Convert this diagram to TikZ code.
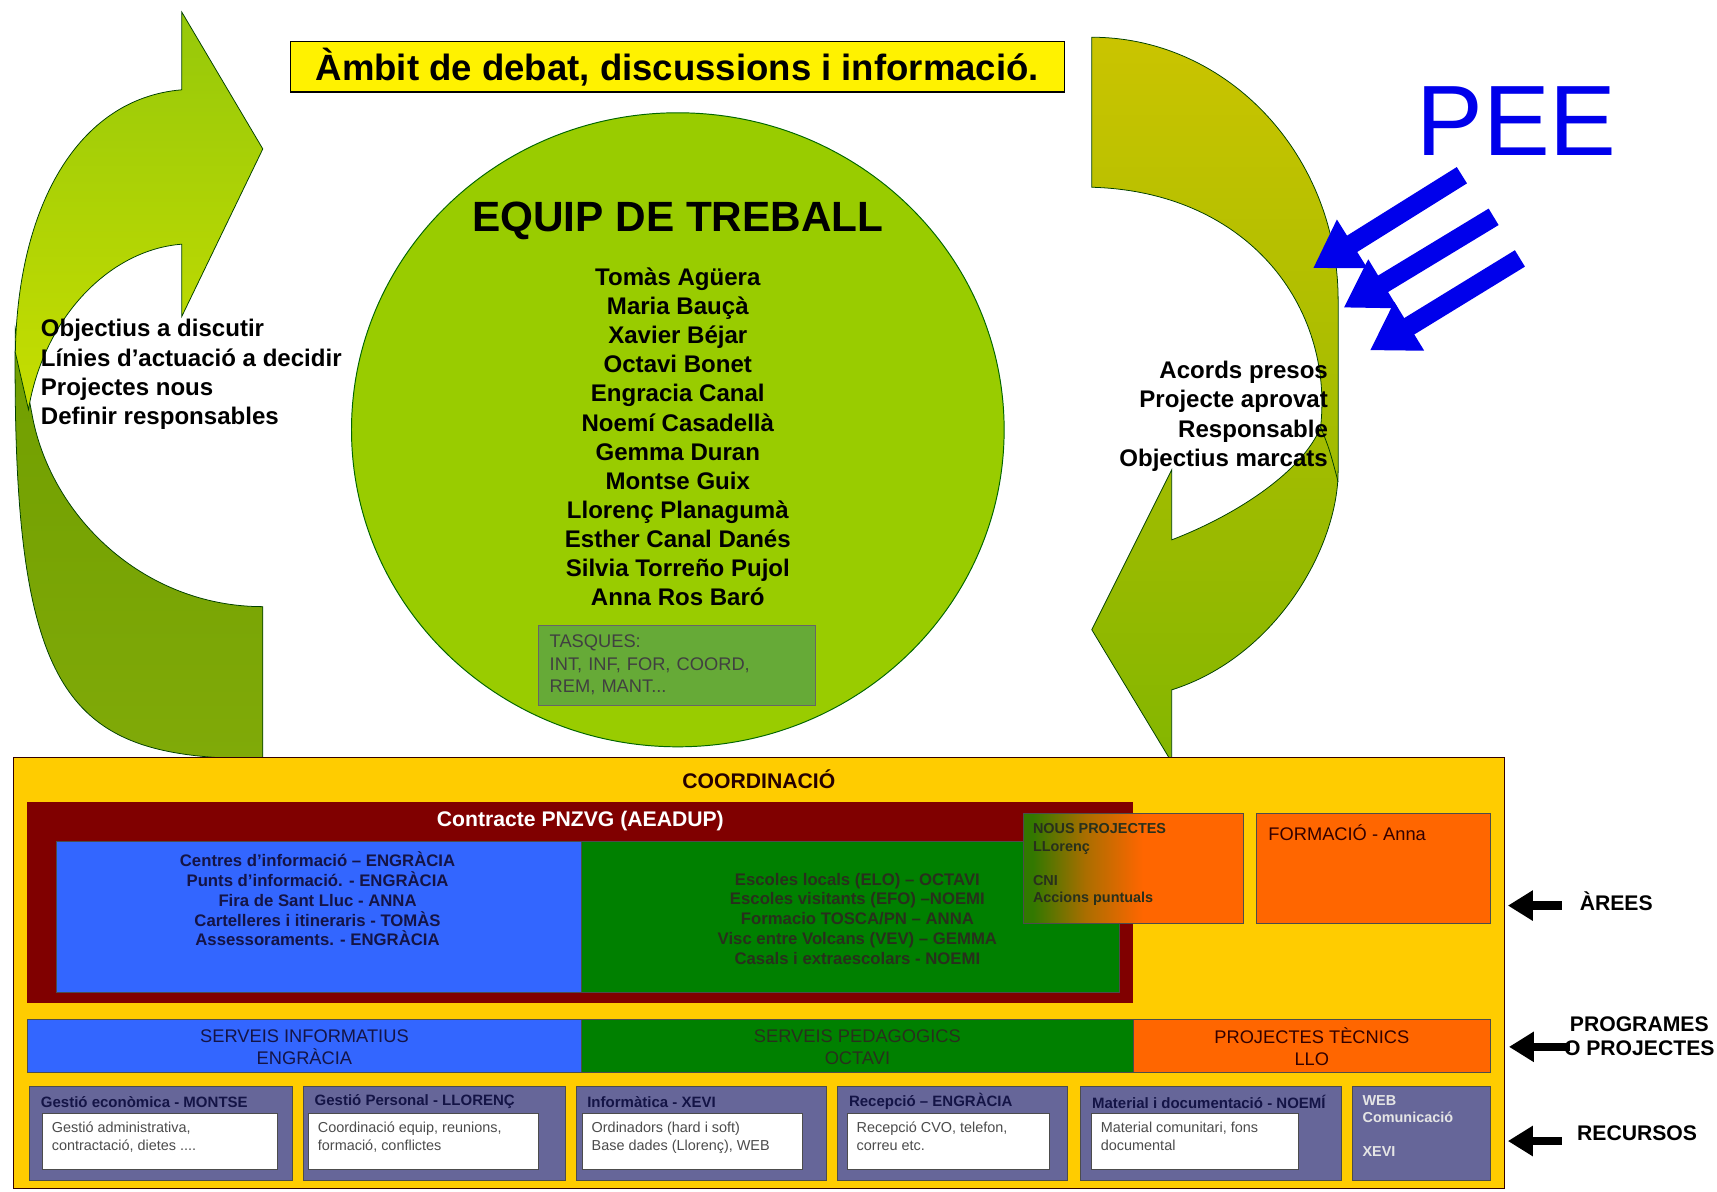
\documentclass[tikz,border=0pt]{standalone}
\usepackage{fontspec}
\setmainfont{Liberation Sans}
\usetikzlibrary{arrows.meta}

\definecolor{leftlight}{RGB}{198,222,0}
\definecolor{lefthead}{RGB}{150,200,10}
\definecolor{leftdark}{RGB}{112,158,0}
\definecolor{leftdarkb}{RGB}{128,170,8}
\definecolor{rightolive}{RGB}{202,196,0}
\definecolor{rightmid}{RGB}{188,212,0}
\definecolor{rightgreen}{RGB}{132,182,0}
\definecolor{circlelime}{RGB}{153,204,0}
\definecolor{tasquesgreen}{RGB}{102,170,55}
\definecolor{coordyellow}{RGB}{255,204,0}
\definecolor{contractred}{RGB}{128,0,0}
\definecolor{infoblue}{RGB}{51,102,255}
\definecolor{pedagreen}{RGB}{0,128,0}
\definecolor{projorange}{RGB}{255,102,0}
\definecolor{recpurple}{RGB}{102,102,153}
\definecolor{peeblue}{RGB}{0,0,235}
\definecolor{inknavy}{RGB}{20,20,70}
\definecolor{inkgreen}{RGB}{40,48,28}
\definecolor{nousgreen}{RGB}{50,120,0}
\definecolor{nousmid}{RGB}{170,110,0}

\pgfdeclarehorizontalshading{nousgrad}{100bp}{color(0bp)=(nousgreen); color(27bp)=(nousgreen); color(39bp)=(nousmid); color(52bp)=(projorange); color(100bp)=(projorange)}

\tikzset{
	loopline/.style={draw=black!75!green, line width=0.4pt},
	thinbox/.style={draw=black!70, line width=0.5pt},
	sidetxt/.style={inner sep=0pt, font=\fontsize{12.5}{15.3}\selectfont\bfseries},
	areatxt/.style={inner sep=0pt, align=center, font=\fontsize{8.7}{10.3}\selectfont\bfseries},
	progtxt/.style={inner sep=0pt, align=center, text=inknavy, font=\fontsize{9.5}{11.4}\selectfont},
	headtxt/.style={inner sep=0pt, anchor=west, text=inknavy, font=\fontsize{7.8}{9}\selectfont\bfseries},
	bodytxt/.style={inner sep=0pt, anchor=north west, align=left, text=black!70, font=\fontsize{7.5}{9.7}\selectfont},
	labeltxt/.style={inner sep=0pt, align=center, font=\fontsize{11}{12.5}\selectfont\bfseries},
	sidearrow/.style={line width=4.3pt, -{Triangle[length=13pt,width=15pt]}},
	peearrow/.style={peeblue, line width=10pt, -{Triangle[length=24pt,width=28pt]}}
}

\begin{document}
\begin{tikzpicture}[x=0.02cm, y=-0.02cm]
	\fill[white] (0,0) rectangle (1568,1088);
	\useasboundingbox (0,0) rectangle (1568,1088);

	\draw[loopline, top color=leftdark, bottom color=leftdarkb] (14,300) .. controls (10,640) and (60,693) .. (240,693) -- (240,554) .. controls (130,554) and (45,470) .. (29,377) -- cycle;
	\draw[loopline, top color=lefthead, bottom color=leftlight] (166,82) -- (166,11) -- (240,136) -- (166,289) -- (166,223) .. controls (100,228) and (40,290) .. (26,374) -- (14,322) .. controls (16,190) and (70,90) .. (166,82) -- cycle;

	\draw[loopline, top color=rightolive, middle color=rightmid, bottom color=rightgreen] (997,34) .. controls (1121,34) and (1222,142) .. (1222,274) -- (1222,430) .. controls (1222,500) and (1165,600) .. (1070,630) -- (1070,696) -- (997,575) -- (1070,429) -- (1070,493) .. controls (1130,470) and (1190,430) .. (1206,390) .. controls (1218,280) and (1140,175) .. (997,171) -- cycle;
	\draw[loopline] (1206,390) .. controls (1214,410) .. (1222,440);

	\node[draw=black, line width=0.7pt, fill=yellow, minimum width=14.14cm, minimum height=0.92cm, inner sep=0pt, font=\fontsize{19}{22}\selectfont\bfseries] (ambit) at (618.5,61) {Àmbit de debat, discussions i informació.};

	\draw[draw=black!60!green, line width=0.5pt, fill=circlelime] (619,392.5) ellipse [x radius=298, y radius=289.5];
	\node[inner sep=0pt, font=\fontsize{22}{26}\selectfont\bfseries] (equip) at (619,202) {EQUIP DE TREBALL};
	\node[sidetxt, align=center, font=\fontsize{12.5}{15.15}\selectfont\bfseries] (membres) at (619,399) {Tomàs Agüera\\Maria Bauçà\\Xavier Béjar\\Octavi Bonet\\Engracia Canal\\Noemí Casadellà\\Gemma Duran\\Montse Guix\\Llorenç Planagumà\\Esther Canal Danés\\Silvia Torreño Pujol\\Anna Ros Baró};
	\node[draw=black!60, fill=tasquesgreen, minimum width=5.06cm, minimum height=1.46cm, inner xsep=0.2cm, text width=4.66cm, align=left, text=black!75, font=\fontsize{9.5}{11.7}\selectfont] (tasques) at (618.5,607.5) {TASQUES:\\INT, INF, FOR, COORD,\\REM, MANT...};

	\node[sidetxt, anchor=west, align=left] (discutir) at (37,342) {Objectius a discutir\\Línies d’actuació a decidir\\Projectes nous\\Definir responsables};
	\node[sidetxt, anchor=east, align=right] (acords) at (1213,380) {Acords presos\\Projecte aprovat\\Responsable\\Objectius marcats};

	\node[inner sep=0pt, text=peeblue, font=\fontsize{52}{60}\selectfont] (pee) at (1385,111) {PEE};
	\foreach \i/\xa/\ya/\xb/\yb in {1/1335/160/1199/245, 2/1364/198/1227/281, 3/1388/236/1251/320}{
		\coordinate (peeTail\i) at (\xa,\ya);
		\coordinate (peeTip\i) at (\xb,\yb);
		\draw[peearrow] (peeTail\i) -- (peeTip\i);
	}

	\draw[draw=black!80!red, line width=0.6pt, fill=coordyellow] (12,692) rectangle (1374,1085);
	\node[inner sep=0pt, text=black!85!red, font=\fontsize{11}{13}\selectfont\bfseries] (coordinacio) at (693,712) {COORDINACIÓ};
	\fill[contractred] (25,732) rectangle (1035,916);
	\node[inner sep=0pt, text=white, font=\fontsize{11}{13}\selectfont\bfseries] (contracte) at (530,750) {Contracte PNZVG (AEADUP)};
	\draw[thinbox, fill=infoblue] (52,768) rectangle (531,906);
	\draw[thinbox, fill=pedagreen] (531,768) rectangle (1022,906);
	\node[areatxt, text=inknavy] (centres) at (290,821) {Centres d’informació – ENGRÀCIA\\Punts d’informació. - ENGRÀCIA\\Fira de Sant Lluc - ANNA\\Cartelleres i itineraris - TOMÀS\\Assessoraments. - ENGRÀCIA};
	\node[areatxt, text=inkgreen] (escoles) at (783,839) {Escoles locals (ELO) – OCTAVI\\Escoles visitants (EFO) –NOEMI\\Formacio TOSCA/PN – ANNA\\Visc entre Volcans (VEV) – GEMMA\\Casals i extraescolars - NOEMI};

	\draw[thinbox, shading=nousgrad] (935,743) rectangle (1136,843);
	\node[bodytxt, text=inkgreen, font=\fontsize{7.5}{8.9}\selectfont\bfseries] (nous) at (943,752) {NOUS PROJECTES\\LLorenç\\[8.9pt]CNI\\Accions puntuals};
	\draw[thinbox, fill=projorange] (1147,743) rectangle (1361,843);
	\node[inner sep=0pt, anchor=west, text=black!80!red, font=\fontsize{9.5}{11}\selectfont] (formacio) at (1158,760) {FORMACIÓ - Anna};

	\draw[thinbox, fill=infoblue] (25,931) rectangle (531,979);
	\draw[thinbox, fill=pedagreen] (531,931) rectangle (1035,979);
	\draw[thinbox, fill=projorange] (1035,931) rectangle (1361,979);
	\node[progtxt] (informatius) at (278,956) {SERVEIS INFORMATIUS\\ENGRÀCIA};
	\node[progtxt, text=inkgreen] (pedagogics) at (783,956) {SERVEIS PEDAGOGICS\\OCTAVI};
	\node[progtxt, text=black!80!red] (tecnics) at (1198,956) {PROJECTES TÈCNICS\\LLO};

	\foreach \xa/\xb/\ia/\ib/\head/\body [count=\i] in {
		27/267/39/253/{Gestió econòmica - MONTSE}/{Gestió administrativa,\\contractació, dietes ....},
		277/516/282/492/{Gestió Personal - LLORENÇ}/{Coordinació equip, reunions,\\formació, conflictes},
		526/755/532/733/{Informàtica - XEVI}/{Ordinadors (hard i soft)\\Base dades (Llorenç), WEB},
		765/975/774/958/{Recepció – ENGRÀCIA}/{Recepció CVO, telefon,\\correu etc.},
		987/1225/997/1186/{Material i documentació - NOEMÍ}/{Material comunitari, fons\\documental}}{
		\draw[thinbox, fill=recpurple] (\xa,992) rectangle (\xb,1078);
		\node[headtxt] (res\i) at (\xa+10,1006) {\head};
		\draw[thinbox, fill=white] (\ia,1017) rectangle (\ib,1068);
		\node[bodytxt] (resin\i) at (\ia+8,1024) {\body};
	}
	\draw[thinbox, fill=recpurple] (1235,992) rectangle (1361,1078);
	\node[bodytxt, text=black!10, font=\fontsize{7.5}{8.9}\selectfont\bfseries] (web) at (1244,1000) {WEB\\Comunicació\\[8.9pt]XEVI};

	\node[labeltxt] (arees) at (1476,823) {ÀREES};
	\node[labeltxt] (programes) at (1497,946) {PROGRAMES\\O PROJECTES};
	\node[labeltxt] (recursos) at (1495,1035) {RECURSOS};
	\coordinate (areesTail) at (1426,827);
	\coordinate (areesTip) at (1377,827);
	\coordinate (programesTail) at (1434,956);
	\coordinate (programesTip) at (1378,956);
	\coordinate (recursosTail) at (1426,1042);
	\coordinate (recursosTip) at (1377,1042);
	\draw[sidearrow] (areesTail) -- (areesTip);
	\draw[sidearrow] (programesTail) -- (programesTip);
	\draw[sidearrow] (recursosTail) -- (recursosTip);
\end{tikzpicture}
\end{document}
